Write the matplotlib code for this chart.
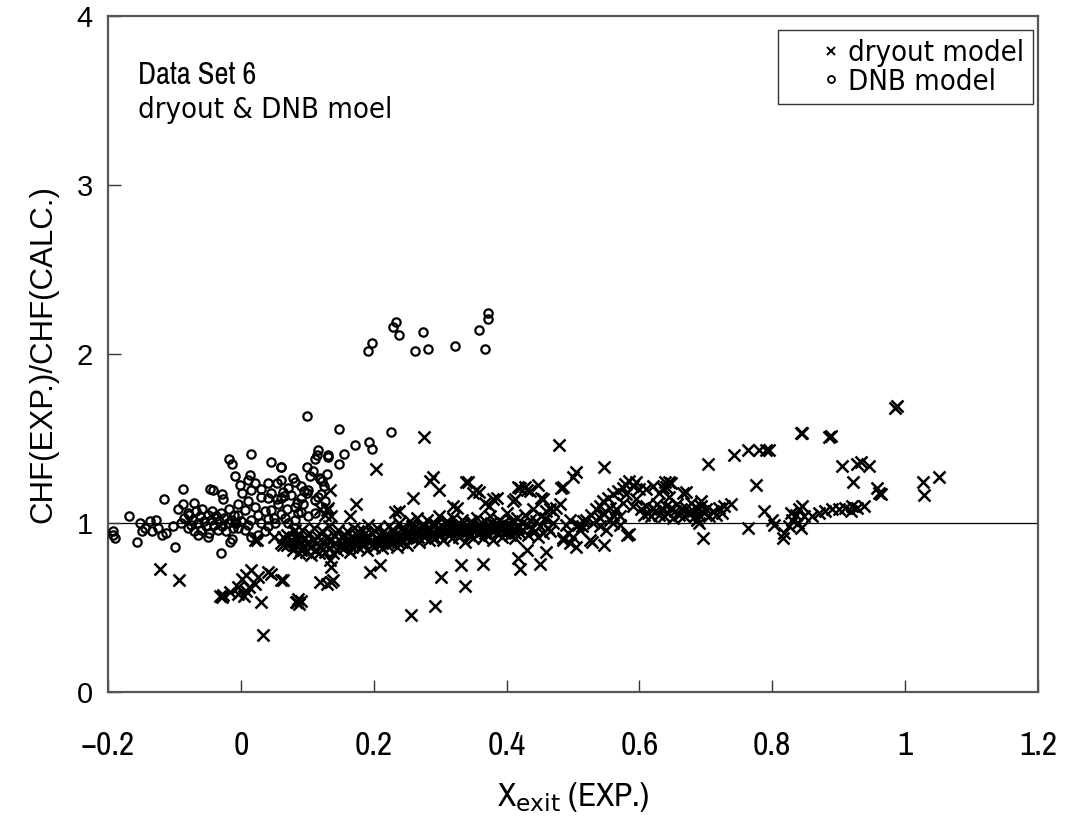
import matplotlib
matplotlib.use("Agg")
import matplotlib.pyplot as plt
from matplotlib.lines import Line2D

# ---------------- data ----------------
dnb_points = [
    # high cluster
    (0.197, 2.067), (0.192, 2.018), (0.234, 2.19), (0.229, 2.16), (0.238, 2.11),
    (0.274, 2.13), (0.262, 2.018), (0.282, 2.03), (0.322, 2.05), (0.359, 2.14),
    (0.372, 2.24), (0.372, 2.21), (0.368, 2.03),
    # left sparse
    (-0.193, 0.95), (-0.189, 0.91), (-0.192, 0.93), (-0.168, 1.04), (-0.152, 1.0),
    (-0.149, 0.95), (-0.157, 0.89), (-0.137, 1.01), (-0.128, 1.02), (-0.134, 0.95),
    (-0.116, 1.14), (-0.119, 0.93), (-0.112, 0.94), (-0.099, 0.86), (-0.087, 1.20),
    (-0.095, 1.08), (-0.087, 1.11), (-0.071, 1.12), (-0.102, 0.98), (-0.145, 0.97),
    (-0.125, 0.97),
    # dense blob
    (-0.09, 1.00), (-0.085, 1.03), (-0.08, 0.97), (-0.078, 1.05), (-0.075, 0.99),
    (-0.072, 1.02), (-0.07, 0.95), (-0.068, 1.07), (-0.065, 1.0), (-0.062, 1.04),
    (-0.06, 0.96), (-0.058, 1.08), (-0.055, 1.01), (-0.053, 0.98), (-0.05, 1.05),
    (-0.048, 0.94), (-0.045, 1.02), (-0.043, 1.07), (-0.04, 0.99), (-0.038, 1.04),
    (-0.035, 0.96), (-0.033, 1.01), (-0.03, 1.06), (-0.028, 0.98), (-0.025, 1.03),
    (-0.022, 0.95), (-0.02, 1.0), (-0.018, 1.08), (-0.015, 1.02), (-0.012, 0.97),
    (-0.01, 1.05), (-0.008, 1.0), (-0.05, 0.92), (-0.065, 0.93), (-0.08, 1.06),
    (-0.047, 1.20), (-0.042, 1.195), (-0.029, 1.17), (-0.027, 1.14), (-0.03, 0.82),
    (-0.017, 0.89), (-0.014, 0.905), (-0.018, 1.38), (-0.014, 1.35), (-0.009, 1.28),
    # 0.0 - 0.13
    (-0.002, 1.225), (0.001, 1.175), (-0.004, 1.115), (0.014, 1.285), (0.011, 1.255),
    (0.021, 1.235), (0.016, 1.195), (0.041, 1.235), (0.054, 1.235), (0.061, 1.255),
    (0.079, 1.265), (0.081, 1.245), (0.119, 1.265), (0.122, 1.25), (0.101, 1.195),
    (0.099, 1.175), (0.076, 1.165), (0.061, 1.145), (0.041, 1.145), (0.031, 1.155),
    (0.021, 1.095), (0.006, 1.075), (0.046, 1.075), (0.061, 1.055), (0.081, 1.095),
    (0.091, 1.065), (0.101, 1.04), (0.111, 1.135), (0.006, 0.96), (0.016, 0.92),
    (0.026, 0.93), (0.031, 1.0), (0.041, 0.98), (0.051, 1.0), (-0.009, 1.0),
    (-0.005, 0.97), (0.041, 1.025), (0.071, 1.0), (0.081, 1.02), (0.016, 1.02),
    (0.026, 1.05), (0.036, 1.07), (0.056, 1.11), (0.066, 1.03), (0.086, 1.06),
    (0.011, 1.13), (0.031, 1.2), (0.046, 1.18), (0.071, 1.21), (0.091, 1.22),
    (0.10, 1.635), (0.148, 1.555), (0.226, 1.54), (0.193, 1.48), (0.197, 1.44),
    (0.172, 1.46), (0.156, 1.41), (0.131, 1.39), (0.148, 1.35), (0.116, 1.43),
    (0.114, 1.40), (0.111, 1.38), (0.10, 1.33), (0.104, 1.28), (0.119, 1.26),
    (0.09, 1.15), (0.095, 1.19), (0.12, 1.17), (0.127, 1.13), (0.085, 1.12),
    (0.07, 1.08), (0.065, 1.16), (0.055, 1.14), (0.05, 1.03), (0.112, 1.06),
    (0.125, 1.22), (0.13, 1.29), (0.108, 1.31), (0.046, 1.36), (0.06, 1.33),
    (0.015, 1.41), (0.131, 1.40), (0.094, 1.115), (0.116, 1.155), (0.064, 1.185),
    (0.061, 1.33), (-0.005, 1.05), (0.0, 1.01), (0.011, 0.99), (0.036, 0.95),
]

dryout_points = [
    # left outliers
    (-0.122, 0.73), (-0.093, 0.66), (-0.029, 0.56), (-0.031, 0.57), (-0.027, 0.575),
    (-0.017, 0.59), (-0.004, 0.58), (0.001, 0.67), (0.008, 0.69), (0.016, 0.72),
    (0.021, 0.64), (0.008, 0.60), (0.004, 0.57), (0.031, 0.53), (0.034, 0.34),
    (0.041, 0.71), (0.046, 0.70), (0.061, 0.66), (0.012, 0.62), (-0.005, 0.62),
    (0.026, 0.68), (0.085, 0.53), (0.088, 0.52), (0.09, 0.54), (0.086, 0.55),
    (0.083, 0.53), (0.119, 0.65), (0.129, 0.64), (0.136, 0.65), (0.139, 0.66),
    (0.136, 0.74), (0.134, 0.78), (0.064, 0.66),
    (0.024, 0.90), (0.021, 0.90), (0.064, 0.87), (0.063, 0.92), (0.061, 0.88),
    (0.069, 0.87), (0.081, 0.96), (0.084, 0.90), (0.091, 0.84), (0.05, 0.92),
    (0.134, 1.195), (0.131, 1.09), (0.126, 1.05), (0.136, 1.04), (0.129, 1.075),
    (0.119, 1.085), (0.164, 1.04), (0.173, 1.115), (0.203, 1.32), (0.276, 1.51),
    (0.479, 1.46), (0.259, 1.145), (0.284, 1.25), (0.289, 1.275), (0.299, 1.195),
    (0.339, 1.245), (0.342, 1.245), (0.35, 1.175), (0.354, 1.195), (0.359, 1.185),
    (0.417, 1.215), (0.43, 1.195), (0.435, 1.19), (0.447, 1.225), (0.42, 1.205),
    (0.427, 1.215), (0.485, 1.215), (0.232, 1.065), (0.238, 1.07), (0.319, 1.10),
    (0.325, 1.09), (0.38, 1.14), (0.41, 1.13), (0.413, 1.14), (0.455, 1.14),
    (0.465, 1.08), (0.452, 1.145), (0.46, 1.07), (0.452, 1.04), (0.385, 1.145),
    (0.374, 1.10), (0.367, 1.12),
    # low outliers
    (0.194, 0.71), (0.209, 0.75), (0.302, 0.68), (0.332, 0.75), (0.337, 0.63),
    (0.364, 0.76), (0.292, 0.51), (0.256, 0.455), (0.417, 0.79), (0.42, 0.73),
    (0.43, 0.84), (0.45, 0.76), (0.46, 0.83), (0.485, 0.90),
    # band 0.07 - 0.15
    (0.070, 0.93), (0.072, 0.88), (0.075, 0.90), (0.078, 0.84), (0.080, 0.95),
    (0.082, 0.87), (0.085, 0.92), (0.087, 0.82), (0.090, 0.89), (0.092, 0.96),
    (0.094, 0.85), (0.096, 0.91), (0.098, 0.83), (0.100, 0.88), (0.102, 0.94),
    (0.104, 0.86), (0.106, 0.81), (0.108, 0.90), (0.110, 0.97), (0.112, 0.84),
    (0.114, 0.88), (0.116, 0.92), (0.118, 0.82), (0.120, 0.86), (0.122, 0.95),
    (0.124, 0.89), (0.126, 0.83), (0.128, 0.91), (0.130, 0.87), (0.132, 0.98),
    (0.134, 0.85), (0.136, 0.90), (0.138, 0.82), (0.140, 0.93), (0.142, 0.88),
    (0.144, 0.84), (0.146, 0.96), (0.148, 0.90), (0.150, 0.86),
    # band 0.15 - 0.25
    (0.152, 0.92), (0.155, 0.85), (0.158, 0.89), (0.160, 0.95), (0.163, 0.87),
    (0.165, 0.83), (0.168, 0.91), (0.170, 0.97), (0.172, 0.88), (0.175, 0.93),
    (0.178, 0.85), (0.180, 0.90), (0.182, 0.96), (0.185, 0.87), (0.188, 0.92),
    (0.190, 0.84), (0.192, 0.99), (0.195, 0.89), (0.198, 0.94), (0.200, 0.86),
    (0.203, 0.91), (0.205, 0.97), (0.208, 0.88), (0.210, 0.93), (0.213, 0.85),
    (0.215, 0.95), (0.218, 0.90), (0.220, 0.87), (0.223, 0.98), (0.225, 0.92),
    (0.228, 0.88), (0.230, 0.95), (0.233, 0.90), (0.235, 0.86), (0.238, 1.00),
    (0.240, 0.93), (0.243, 0.89), (0.245, 0.96), (0.248, 0.91), (0.250, 0.87),
    (0.152, 0.88), (0.157, 0.93), (0.162, 0.90), (0.167, 0.86), (0.173, 0.90),
    (0.177, 0.95), (0.183, 0.89), (0.187, 0.94), (0.193, 0.92), (0.197, 0.87),
    (0.202, 0.95), (0.207, 0.90), (0.212, 0.88), (0.217, 0.93), (0.222, 0.91),
    (0.227, 0.96), (0.232, 0.93), (0.237, 0.89), (0.242, 0.97), (0.247, 0.94),
    # band 0.25 - 0.36
    (0.253, 0.95), (0.255, 1.01), (0.258, 0.91), (0.260, 0.97), (0.263, 0.93),
    (0.265, 1.03), (0.268, 0.89), (0.270, 0.96), (0.273, 0.99), (0.275, 0.92),
    (0.278, 0.95), (0.280, 1.02), (0.283, 0.90), (0.285, 0.97), (0.288, 0.94),
    (0.290, 1.00), (0.293, 0.91), (0.295, 0.96), (0.298, 1.04), (0.300, 0.93),
    (0.303, 0.98), (0.305, 0.90), (0.308, 0.95), (0.310, 1.01), (0.313, 0.93),
    (0.315, 0.97), (0.318, 0.91), (0.320, 1.03), (0.323, 0.95), (0.325, 0.99),
    (0.328, 0.92), (0.330, 0.96), (0.333, 1.02), (0.335, 0.94), (0.338, 0.89),
    (0.340, 0.98), (0.343, 0.93), (0.345, 1.00), (0.348, 0.96), (0.350, 0.91),
    (0.353, 0.97), (0.355, 1.03), (0.358, 0.94), (0.360, 0.99),
    (0.252, 0.92), (0.257, 0.98), (0.262, 0.95), (0.267, 0.92), (0.272, 0.98),
    (0.277, 0.94), (0.282, 0.97), (0.287, 0.92), (0.292, 0.99), (0.297, 0.95),
    (0.302, 0.96), (0.307, 1.00), (0.312, 0.96), (0.317, 0.94), (0.322, 0.98),
    (0.327, 0.95), (0.332, 0.99), (0.337, 0.96), (0.342, 0.95), (0.347, 1.01),
    (0.352, 0.95), (0.357, 0.98),
    # band 0.36 - 0.47
    (0.363, 0.95), (0.365, 0.91), (0.368, 1.01), (0.370, 0.97), (0.373, 0.93),
    (0.375, 1.04), (0.378, 0.96), (0.380, 0.90), (0.383, 0.99), (0.385, 0.94),
    (0.388, 1.02), (0.390, 0.97), (0.393, 0.92), (0.395, 1.00), (0.398, 0.95),
    (0.400, 1.06), (0.403, 0.98), (0.405, 0.93), (0.408, 1.01), (0.410, 0.96),
    (0.413, 0.91), (0.415, 1.03), (0.418, 0.98), (0.420, 0.94), (0.423, 1.00),
    (0.425, 0.96), (0.428, 1.05), (0.430, 0.99), (0.433, 0.93), (0.435, 1.02),
    (0.438, 0.97), (0.440, 1.08), (0.443, 0.95), (0.445, 1.01), (0.448, 0.92),
    (0.450, 0.98), (0.455, 0.94), (0.458, 1.03), (0.462, 0.97), (0.466, 0.95),
    (0.470, 1.00),
    (0.362, 0.97), (0.367, 0.94), (0.372, 0.99), (0.377, 1.00), (0.382, 0.96),
    (0.387, 0.98), (0.392, 0.95), (0.397, 0.98), (0.402, 0.96), (0.407, 0.99),
    (0.412, 0.94), (0.417, 0.97),
    # 0.47 - 0.60
    (0.475, 1.09), (0.48, 1.11), (0.47, 1.07), (0.482, 1.205), (0.485, 0.91),
    (0.495, 0.88), (0.505, 0.86), (0.50, 0.92), (0.492, 0.94), (0.507, 0.99),
    (0.514, 0.98), (0.525, 0.90), (0.528, 0.89), (0.547, 0.87), (0.582, 0.93),
    (0.584, 0.935), (0.505, 1.30), (0.50, 1.27), (0.547, 1.33), (0.52, 1.02),
    (0.527, 1.05), (0.535, 1.08), (0.54, 1.10), (0.545, 1.13), (0.552, 1.15),
    (0.56, 1.17), (0.567, 1.19), (0.575, 1.21), (0.578, 1.23), (0.585, 1.25),
    (0.59, 1.22), (0.595, 1.24), (0.60, 1.20), (0.53, 1.00), (0.54, 1.03),
    (0.545, 1.06), (0.555, 1.02), (0.56, 1.05), (0.565, 1.08), (0.575, 1.12),
    (0.57, 1.04), (0.555, 1.09), (0.58, 1.17), (0.59, 1.10), (0.595, 1.14),
    (0.54, 0.98), (0.55, 0.96), (0.56, 1.00), (0.57, 0.99), (0.515, 1.01),
    (0.51, 0.96), (0.49, 0.99), (0.495, 1.02),
    # 0.60 - 0.73
    (0.603, 1.08), (0.607, 1.05), (0.61, 1.10), (0.613, 1.06), (0.617, 1.04),
    (0.62, 1.09), (0.623, 1.07), (0.627, 1.11), (0.63, 1.05), (0.633, 1.08),
    (0.637, 1.04), (0.64, 1.10), (0.643, 1.06), (0.647, 1.09), (0.65, 1.03),
    (0.653, 1.07), (0.657, 1.11), (0.66, 1.05), (0.663, 1.08), (0.667, 1.04),
    (0.67, 1.09), (0.673, 1.06), (0.677, 1.12), (0.68, 1.07), (0.683, 1.04),
    (0.687, 1.09), (0.69, 1.05), (0.693, 1.10), (0.697, 1.06), (0.70, 1.08),
    (0.705, 1.04), (0.71, 1.07), (0.715, 1.05), (0.72, 1.09), (0.725, 1.06),
    (0.63, 1.18), (0.635, 1.21), (0.645, 1.24), (0.638, 1.245), (0.64, 1.215),
    (0.648, 1.235), (0.645, 1.155), (0.665, 1.175), (0.67, 1.185), (0.693, 1.13),
    (0.728, 1.10), (0.738, 1.11), (0.686, 1.02), (0.69, 1.00), (0.695, 0.91),
    (0.61, 1.20), (0.62, 1.22),
    # 0.70 - 1.06
    (0.703, 1.35), (0.743, 1.40), (0.763, 1.43), (0.78, 1.43), (0.79, 1.43),
    (0.795, 1.43), (0.843, 1.53), (0.845, 1.535), (0.886, 1.51), (0.888, 1.515),
    (0.905, 1.34), (0.921, 1.245), (0.928, 1.35), (0.776, 1.225), (0.763, 0.97),
    (0.788, 1.07), (0.80, 1.02), (0.803, 0.99), (0.816, 0.91), (0.818, 0.94),
    (0.825, 0.98), (0.83, 1.02), (0.835, 1.05), (0.84, 1.08), (0.845, 1.10),
    (0.838, 1.00), (0.848, 1.04), (0.828, 1.06), (0.843, 0.97), (0.86, 1.04),
    (0.87, 1.06), (0.88, 1.07), (0.89, 1.08), (0.90, 1.08), (0.91, 1.09),
    (0.92, 1.10), (0.933, 1.36), (0.946, 1.34), (0.958, 1.205), (0.961, 1.175),
    (0.963, 1.17), (0.938, 1.10), (0.928, 1.09), (0.918, 1.07), (0.985, 1.68),
    (0.987, 1.695), (1.027, 1.245), (1.029, 1.165), (1.051, 1.275),
]

x_ticks = [-0.2, 0, 0.2, 0.4, 0.6, 0.8, 1, 1.2]
x_tick_labels = ["\u22120.2", "0", "0.2", "0.4", "0.6", "0.8", "1", "1.2"]
y_ticks = [0, 1, 2, 3, 4]
y_tick_labels = ["0", "1", "2", "3", "4"]
reference_level = 1.0

dnb_x = [p[0] for p in dnb_points]
dnb_y = [p[1] for p in dnb_points]
dry_x = [p[0] for p in dryout_points]
dry_y = [p[1] for p in dryout_points]

# ---------------- figure ----------------
narrow = ["Archivo Narrow", "DejaVu Sans"]
arial = ["Liberation Sans", "DejaVu Sans"]

fig = plt.figure(figsize=(10.73, 8.23), dpi=100)
ax = fig.add_axes([108 / 1073, 1 - 692 / 823, 930 / 1073, 676 / 823])

ax.axhline(reference_level, color="black", lw=0.9, zorder=1)

ax.plot(dry_x, dry_y, linestyle="none", marker="x", markersize=8.5,
        markeredgewidth=1.8, color="black", zorder=3)
ax.plot(dnb_x, dnb_y, linestyle="none", marker="o", markersize=6,
        markeredgewidth=1.6, markerfacecolor="none", markeredgecolor="black", zorder=3)

ax.set_xlim(-0.2, 1.2)
ax.set_ylim(0, 4)
ax.set_xticks(x_ticks)
ax.set_xticklabels(x_tick_labels, family=narrow, fontsize=24)
ax.set_yticks(y_ticks)
ax.set_yticklabels(y_tick_labels, family=arial, fontsize=21)
ax.tick_params(axis="both", direction="in", length=9, width=1, color="#333333")
ax.tick_params(axis="x", pad=28)
ax.tick_params(axis="y", pad=11)

for s in ax.spines.values():
    s.set_color("#555555")
    s.set_linewidth(1.6)

ax.set_ylabel("CHF(EXP.)/CHF(CALC.)", family=arial, fontsize=22.5, labelpad=13)
ax.set_xlabel(r"X$_{\mathrm{exit}}$ (EXP.)", family=narrow, fontsize=24, labelpad=14)

ax.text(0.032, 0.913, "Data Set 6", transform=ax.transAxes, family=narrow,
        fontsize=22, va="center", ha="left")
ax.text(0.032, 0.861, "dryout & DNB moel", transform=ax.transAxes,
        family="DejaVu Sans", stretch="condensed", fontsize=21, va="center", ha="left")

handles = [
    Line2D([], [], linestyle="none", marker="x", markersize=6, markeredgewidth=1.4,
           color="black", label="dryout model"),
    Line2D([], [], linestyle="none", marker="o", markersize=5, markeredgewidth=1.3,
           markerfacecolor="none", markeredgecolor="black", label="DNB model"),
]
leg = ax.legend(handles=handles, loc="upper right", bbox_to_anchor=(0.995, 0.979),
                prop={"family": "DejaVu Sans", "stretch": "condensed", "size": 21},
                frameon=True, fancybox=False, edgecolor="black",
                handlelength=3.0, handletextpad=-0.9,
                borderpad=0.3, labelspacing=0.02, borderaxespad=0.0)
leg.get_frame().set_linewidth(1.0)

fig.savefig("out.png", dpi=100)
